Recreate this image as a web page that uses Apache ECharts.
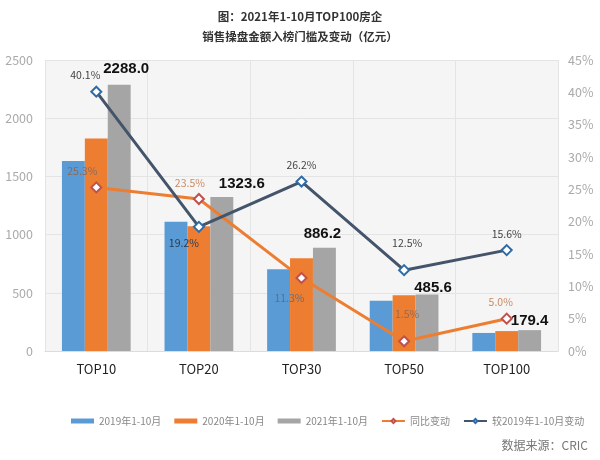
<!DOCTYPE html>
<html>
<head>
<meta charset="utf-8">
<script src="https://cdn.jsdelivr.net/npm/echarts@6/dist/echarts.min.js"></script>
<style>html,body{margin:0;padding:0;background:#fff}#c{width:600px;height:460px}</style>
</head>
<body>
<div id="c"></div>
<script>
var categories = ['TOP10', 'TOP20', 'TOP30', 'TOP50', 'TOP100'];
var v2019 = [1633, 1110, 702, 432, 155];
var v2020 = [1826, 1072, 796, 478, 171];
var v2021 = [2288.0, 1323.6, 886.2, 485.6, 179.4];
var yoy = [25.3, 23.5, 11.3, 1.5, 5.0];
var vs2019 = [40.1, 19.2, 26.2, 12.5, 15.6];
var leftTicks = [0, 500, 1000, 1500, 2000, 2500];
var rightTicks = [0, 5, 10, 15, 20, 25, 30, 35, 40, 45];

var barLabelOffsets = [[7, -4], [20, -2], [-2, -2], [6, 5], [0, 2]];
var yoyLabelPos = [['top', [-14, 0]], ['top', [-9, 0]], ['bottom', [-12, 4]], ['top', [3, -11]], ['top', [-6, 0]]];
var vsLabelPos = [['top', [-11, 0]], ['bottom', [-15, 0]], ['top', [0, 0]], ['top', [3, -11]], ['top', [0, 0]]];

var font = '"Noto Sans CJK SC", "Noto Sans", sans-serif';

function lineData(vals, pos, colors) {
  return vals.map(function (v, i) {
    return { value: v, label: { position: pos[i][0], offset: pos[i][1], color: colors[i] } };
  });
}

var chart = echarts.init(document.getElementById('c'));
chart.setOption({
  animation: false,
  backgroundColor: '#ffffff',
  textStyle: { fontFamily: font },
  title: {
    text: '图：2021年1-10月TOP100房企\n销售操盘金额入榜门槛及变动（亿元）',
    left: 'center', top: 2,
    textStyle: { fontSize: 11.5, fontWeight: 'bold', color: '#333', lineHeight: 20, fontFamily: font }
  },
  graphic: [{
    type: 'text', right: 12, top: 439,
    style: { text: '数据来源：CRIC', fill: '#777', font: '12px ' + font }
  }],
  legend: {
    left: 66, top: 411,
    itemWidth: 23, itemHeight: 5, itemGap: 13,
    textStyle: { color: '#888', fontSize: 10, fontFamily: font },
    data: [
      { name: '2019年1-10月', icon: 'rect' },
      { name: '2020年1-10月', icon: 'rect' },
      { name: '2021年1-10月', icon: 'rect' },
      { name: '同比变动' },
      { name: '较2019年1-10月变动' }
    ]
  },
  grid: {
    left: 45, right: 42, top: 60, bottom: 109,
    show: true, backgroundColor: '#f5f5f5', borderWidth: 0
  },
  xAxis: {
    type: 'category', data: categories,
    axisTick: { show: false },
    axisLine: { show: true, lineStyle: { color: '#dcdcdc' } },
    axisLabel: { color: '#222', fontSize: 13, margin: 12 },
    splitLine: { show: true, lineStyle: { color: '#e4e4e4' } }
  },
  yAxis: [{
    type: 'value', min: leftTicks[0], max: leftTicks[leftTicks.length - 1], interval: 500,
    axisLine: { show: false }, axisTick: { show: false },
    axisLabel: { color: '#aaa', fontSize: 12.5, margin: 12, formatter: function (v) { return String(v); } },
    splitLine: { show: true, lineStyle: { color: '#e4e4e4' } }
  }, {
    type: 'value', min: rightTicks[0], max: rightTicks[rightTicks.length - 1], interval: 5,
    axisLine: { show: false }, axisTick: { show: false },
    axisLabel: { color: '#aaa', fontSize: 12.5, margin: 10, formatter: '{value}%' },
    splitLine: { show: false }
  }],
  series: [{
    name: '2019年1-10月', type: 'bar', data: v2019, z: 1,
    barGap: 0, barCategoryGap: '33%',
    itemStyle: { color: '#5b9bd5' }
  }, {
    name: '2020年1-10月', type: 'bar', data: v2020, z: 1,
    barGap: 0, barCategoryGap: '33%',
    itemStyle: { color: '#ed7d31' }
  }, {
    name: '2021年1-10月', type: 'bar', barGap: 0, barCategoryGap: '33%', z: 1,
    itemStyle: { color: '#a5a5a5' },
    data: v2021.map(function (v, i) {
      return { value: v, label: { offset: barLabelOffsets[i] } };
    }),
    label: {
      show: true, position: 'top', distance: 4,
      formatter: function (p) { return p.value.toFixed(1); },
      fontSize: 15, fontWeight: 'bold', color: '#111', fontFamily: 'Liberation Sans, Arial, sans-serif'
    }
  }, {
    name: '同比变动', type: 'line', yAxisIndex: 1,
    data: lineData(yoy, yoyLabelPos, ['#8a6a5a', '#c98a60', '#5f6f80', '#9a6a4e', '#c98a60']),
    symbol: 'diamond', symbolSize: 10, showAllSymbol: true, z: 5,
    lineStyle: { color: '#ed7d31', width: 3 },
    itemStyle: { color: '#fff', borderColor: '#c0504d', borderWidth: 2 },
    label: { show: true, fontSize: 10.5, distance: 5, formatter: function (p) { return p.value.toFixed(1) + '%'; } }
  }, {
    name: '较2019年1-10月变动', type: 'line', yAxisIndex: 1,
    data: lineData(vs2019, vsLabelPos, ['#444', '#2a3a50', '#444', '#444', '#444']),
    symbol: 'diamond', symbolSize: 10, showAllSymbol: true, z: 6,
    lineStyle: { color: '#44546a', width: 3 },
    itemStyle: { color: '#fff', borderColor: '#2e6aa6', borderWidth: 2 },
    label: { show: true, fontSize: 10.5, distance: 5, formatter: function (p) { return p.value.toFixed(1) + '%'; } }
  }]
});
</script>
</body>
</html>
